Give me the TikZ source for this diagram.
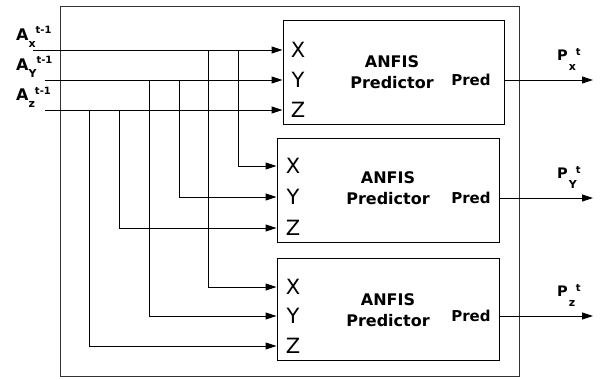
\documentclass[tikz,border=0pt]{standalone}
\usepackage{fontspec}
\setmainfont{DejaVu Sans}
\usetikzlibrary{arrows.meta}
\newcommand{\subfnt}{\fontsize{11}{11}\selectfont}
\newcommand{\supfnt}{\fontsize{10}{10}\selectfont}
\begin{document}
\begin{tikzpicture}[x=1pt,y=-1pt,
  wire/.style={line width=0.9pt},
  arr/.style={wire,-{Triangle[length=11pt,width=7pt]}},
  block/.style={draw,line width=0.9pt,minimum width=222pt,minimum height=104pt,inner sep=0pt},
  portlbl/.style={font=\fontsize{21}{21}\selectfont,inner sep=0pt},
  blocktitle/.style={font=\fontsize{16}{21}\selectfont\bfseries,align=center,inner sep=0pt},
  predtext/.style={font=\fontsize{15}{15}\selectfont\bfseries,inner sep=0pt},
  sig/.style={font=\bfseries,inner sep=0pt,anchor=base west}
]
\useasboundingbox (0,0) rectangle (603,380);

% enclosing frame
\node[draw,black!80,line width=0.9pt,minimum width=459pt,minimum height=370pt,inner sep=0pt] (frame) at (289.5,191) {};

% the three predictor blocks
\node[block,minimum width=221pt] (bx) at (393.5,72) {};
\node[block] (by) at (388,190) {};
\node[block,minimum height=102pt] (bz) at (388,309) {};

\node[blocktitle] (tx) at (392,72.5) {ANFIS\\Predictor};
\node[blocktitle] (ty) at (388,188.5) {ANFIS\\Predictor};
\node[blocktitle] (tz) at (388,310) {ANFIS\\Predictor};

% input ports
\node[portlbl] (bxX) at (298,50) {X};
\node[portlbl] (bxY) at (298,80) {Y};
\node[portlbl] (bxZ) at (298,110) {Z};
\node[portlbl] (byX) at (293,166) {X};
\node[portlbl] (byY) at (293,197) {Y};
\node[portlbl] (byZ) at (293,228) {Z};
\node[portlbl] (bzX) at (293,287) {X};
\node[portlbl] (bzY) at (293,316) {Y};
\node[portlbl] (bzZ) at (293,346) {Z};

% output ports
\node[predtext] (predx) at (471,80) {Pred};
\node[predtext] (predy) at (471,198) {Pred};
\node[predtext] (predz) at (471,316) {Pred};

% input signals
\node[sig] (lax) at (16,40) {\fontsize{16}{16}\selectfont A\subfnt\raisebox{-7.5pt}{x}\supfnt\raisebox{6pt}{t-1}};
\node[sig] (lay) at (16,70) {\fontsize{16}{16}\selectfont A\subfnt\raisebox{-7.5pt}{Y}\supfnt\raisebox{6pt}{t-1}};
\node[sig] (laz) at (16,100) {\fontsize{16}{16}\selectfont A\subfnt\raisebox{-7.5pt}{z}\supfnt\raisebox{6pt}{t-1}};

\coordinate (ax) at (33,50);
\coordinate (ay) at (45,80);
\coordinate (az) at (45,110);

% branch points on the input lines
\coordinate (j1) at (238,50);
\coordinate (j2) at (208,50);
\coordinate (j3) at (179,80);
\coordinate (j4) at (149,80);
\coordinate (j5) at (119,110);
\coordinate (j6) at (89,110);

\draw[arr] (ax) -- (bx.west |- bxX);
\draw[arr] (ay) -- (bx.west |- bxY);
\draw[arr] (az) -- (bx.west |- bxZ);

\draw[arr] (j1) |- (by.west |- byX);
\draw[arr] (j3) |- (by.west |- byY);
\draw[arr] (j5) |- (by.west |- byZ);

\draw[arr] (j2) |- (bz.west |- bzX);
\draw[arr] (j4) |- (bz.west |- bzY);
\draw[arr] (j6) |- (bz.west |- bzZ);

% outputs
\coordinate (ox) at (593,80);
\coordinate (oy) at (593,198);
\coordinate (oz) at (593,316);

\draw[arr] (bx.east |- predx) -- (ox);
\draw[arr] (by.east |- predy) -- (oy);
\draw[arr] (bz.east |- predz) -- (oz);

\node[sig] (lpx) at (557,60.5) {\fontsize{14.5}{14.5}\selectfont P\hspace{1pt}\subfnt\rlap{\raisebox{-10pt}{x}}\hspace{7pt}\supfnt\raisebox{5.5pt}{t}};
\node[sig] (lpy) at (557,178.5) {\fontsize{14.5}{14.5}\selectfont P\hspace{1pt}\subfnt\rlap{\raisebox{-10pt}{Y}}\hspace{7pt}\supfnt\raisebox{5.5pt}{t}};
\node[sig] (lpz) at (557,296.5) {\fontsize{14.5}{14.5}\selectfont P\hspace{1pt}\subfnt\rlap{\raisebox{-10pt}{z}}\hspace{7pt}\supfnt\raisebox{5.5pt}{t}};
\end{tikzpicture}
\end{document}
